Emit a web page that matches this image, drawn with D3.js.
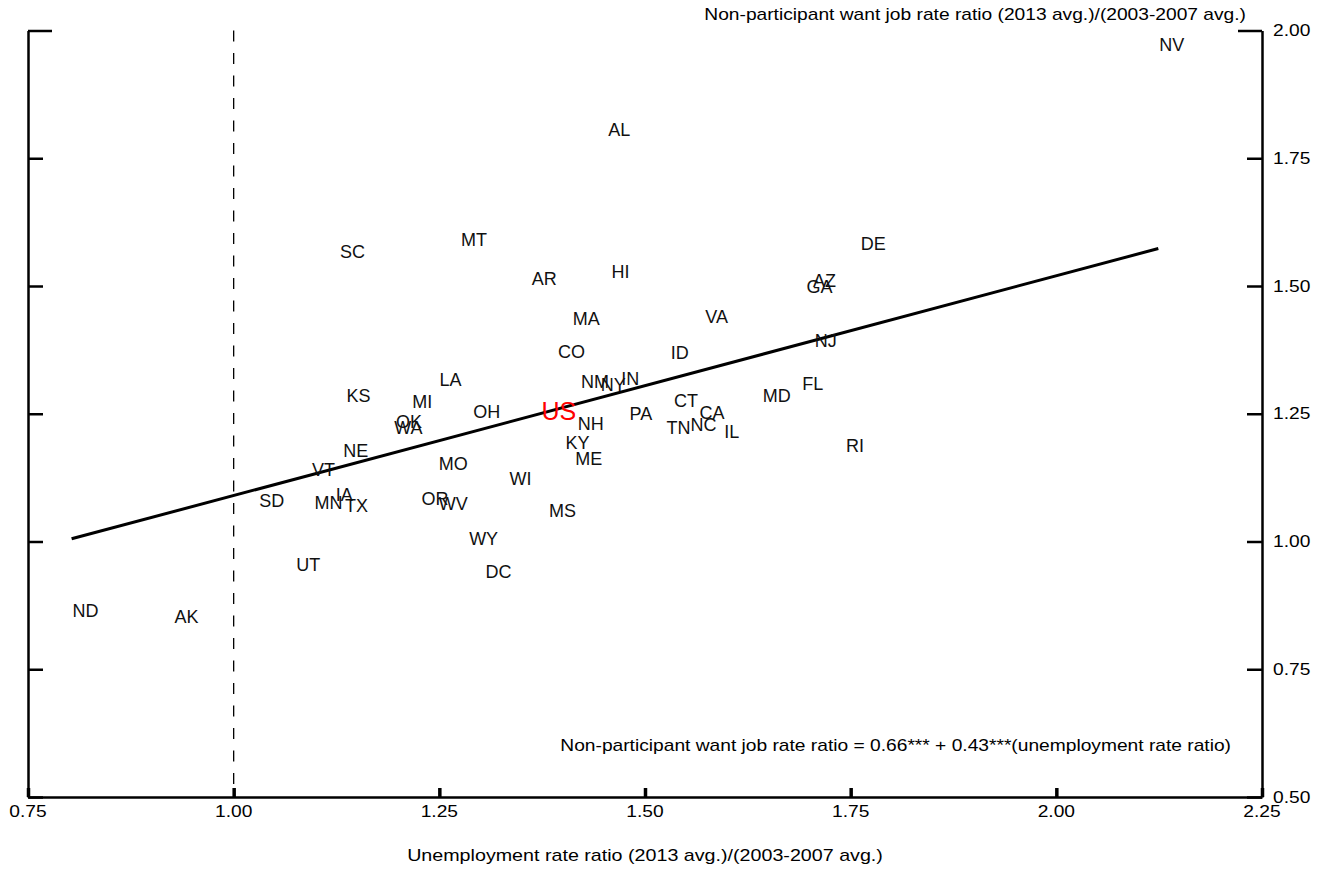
<!DOCTYPE html>
<html>
<head>
<meta charset="utf-8">
<script src="https://cdn.jsdelivr.net/npm/d3@7"></script>
<style>
  html, body { margin: 0; padding: 0; background: #fff; }
  svg { display: block; font-family: "Liberation Sans", Arial, sans-serif; }
</style>
</head>
<body>
<svg id="chart" width="1324" height="869"></svg>
<script>
// ---- data ----
const states = ["ND","AK","SD","MN","IA","TX","UT","VT","NE","KS","MI","LA","OK","WA","OH","MO","OR","WV","WI","WY","DC","MS","NH","KY","ME","NM","NY","IN","PA","AR","HI","DE","AZ","GA","MA","VA","CO","ID","NJ","FL","MD","CT","CA","TN","NC","IL","RI","AL","SC","MT","NV"];
const unempRatio = [0.803,0.927,1.030,1.097,1.123,1.134,1.075,1.094,1.132,1.136,1.216,1.249,1.196,1.194,1.290,1.248,1.227,1.248,1.334,1.285,1.305,1.382,1.417,1.402,1.414,1.421,1.445,1.470,1.480,1.361,1.458,1.761,1.703,1.695,1.411,1.572,1.393,1.530,1.705,1.690,1.642,1.534,1.565,1.525,1.554,1.595,1.743,1.454,1.128,1.275,2.124];
const wantJobRatio = [0.865,0.854,1.080,1.077,1.092,1.071,0.955,1.141,1.179,1.286,1.273,1.317,1.234,1.223,1.255,1.152,1.084,1.074,1.123,1.006,0.942,1.060,1.231,1.193,1.163,1.313,1.308,1.318,1.251,1.515,1.528,1.584,1.511,1.499,1.437,1.441,1.372,1.370,1.394,1.310,1.286,1.276,1.253,1.224,1.229,1.216,1.188,1.806,1.567,1.591,1.972];
const usLabel = "US";
const usPoint = [1.373, 1.255];
const fitIntercept = 0.66;
const fitSlope = 0.43;
const xTicks = [0.75, 1.00, 1.25, 1.50, 1.75, 2.00, 2.25];
const yTicks = [0.50, 0.75, 1.00, 1.25, 1.50, 1.75, 2.00];
const refLineX = 1.00;
const yTitle = "Non-participant want job rate ratio (2013 avg.)/(2003-2007 avg.)";
const xTitle = "Unemployment rate ratio (2013 avg.)/(2003-2007 avg.)";
const equation = "Non-participant want job rate ratio = 0.66*** + 0.43***(unemployment rate ratio)";

// ---- layout ----
const svg = d3.select("#chart");
const L = 28, R = 1262, T = 30.5, B = 797;
const x = d3.scaleLinear().domain([0.75, 2.25]).range([L, R]);
const y = d3.scaleLinear().domain([0.50, 2.00]).range([B, T]);
const fmt = d3.format(".2f");
const STRETCH = 1.2;

// reference dashed line
svg.append("line")
  .attr("x1", x(refLineX)).attr("x2", x(refLineX))
  .attr("y1", y(2.0)).attr("y2", y(0.5))
  .attr("stroke", "#000").attr("stroke-width", 1.3)
  .attr("stroke-dasharray", "11,11.5");

// fitted line
const xs = d3.extent(unempRatio);
svg.append("line")
  .attr("x1", x(xs[0])).attr("y1", y(fitIntercept + fitSlope * xs[0]))
  .attr("x2", x(xs[1])).attr("y2", y(fitIntercept + fitSlope * xs[1]))
  .attr("stroke", "#000").attr("stroke-width", 3);

// left axis (ticks inward, no labels)
const gl = svg.append("g").attr("transform", `translate(${L},0)`)
  .call(d3.axisRight(y).tickValues(yTicks).tickSizeInner(15).tickSizeOuter(0).tickFormat(""));
// right axis (ticks inward)
const gr = svg.append("g").attr("transform", `translate(${R},0)`)
  .call(d3.axisLeft(y).tickValues(yTicks).tickSizeInner(15).tickSizeOuter(0).tickFormat(""));
gl.selectAll(".tick line").filter(d => d === 2.0).attr("x2", 24);
gr.selectAll(".tick line").filter(d => d === 2.0).attr("x2", -24);
// bottom axis (ticks inward)
const gb = svg.append("g").attr("transform", `translate(0,${B})`)
  .call(d3.axisTop(x).tickValues(xTicks).tickSizeInner(9).tickSizeOuter(0).tickFormat(""));

[gl, gr, gb].forEach(g => {
  g.select(".domain").attr("stroke", "#000").attr("stroke-width", 2.5);
  g.selectAll(".tick line").attr("stroke", "#000").attr("stroke-width", 2.5);
});
gb.selectAll(".tick line").attr("stroke-width", 3.5);

// stretched text helper
function stext(px, py, str, anchor, size) {
  const g = svg.append("g").attr("transform", `translate(${px},${py}) scale(${STRETCH},1)`);
  g.append("text").attr("x", 0).attr("y", 0)
    .attr("text-anchor", anchor).attr("font-size", size).attr("fill", "#000").text(str);
  return g;
}

// tick labels
yTicks.forEach(v => stext(R + 11, y(v) + 5.7, fmt(v), "start", 16));
xTicks.forEach(v => stext(x(v), 817, fmt(v), "middle", 16));

// titles and equation
stext(1246, 20, yTitle, "end", 16);
stext((L + R) / 2, 861, xTitle, "middle", 16.4);
stext(1231, 751, equation, "end", 16);

// state labels
svg.append("g").selectAll("text")
  .data(states.map((s, i) => ({ s, ux: unempRatio[i], wy: wantJobRatio[i] })))
  .join("text")
  .attr("x", d => x(d.ux) + 1)
  .attr("y", d => y(d.wy))
  .attr("dy", "0.36em")
  .attr("font-size", 18)
  .attr("fill", "#111")
  .text(d => d.s);

// US label
svg.append("text")
  .attr("x", x(usPoint[0]) + 1)
  .attr("y", y(usPoint[1]))
  .attr("dy", "0.36em")
  .attr("font-size", 25)
  .attr("fill", "#ff0000")
  .text(usLabel);
</script>
</body>
</html>
